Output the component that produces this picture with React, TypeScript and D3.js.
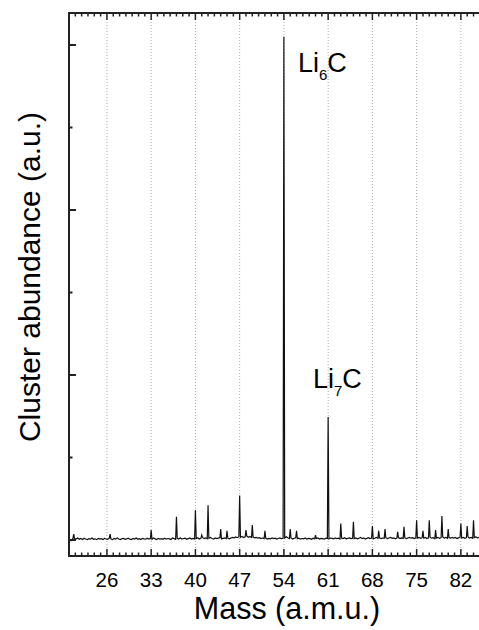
import React from "react";
import * as d3 from "d3";

const width = 479;
const height = 630;
const margin = { top: 13, left: 69, bottom: 556, right: 483 };

// baseline noise, one value every 0.25 a.m.u. starting at 20.125
const massStart = 20.125;
const massStep = 0.25;
const noise = [
  -0.004, -0.004, 0.010, 0.008, 0.006, 0.012, 0.004, 0.009, 0.003, 0.011, 0.006, 0.002, 0.008, 0.005, 0.012, 0.004, 0.007, 0.002, 0.009, 0.005,
  0.008, 0.003, 0.010, 0.006, 0.004, 0.011, 0.007, 0.002, 0.009, 0.005, 0.012, 0.006, 0.003, 0.008, 0.010, 0.004, 0.007, 0.011, 0.005, 0.003,
  0.009, 0.006, 0.012, 0.004, 0.008, 0.003, 0.010, 0.007, 0.005, 0.011, 0.006, 0.009, 0.004, 0.012, 0.007, 0.003, 0.010, 0.006, 0.008, 0.004,
  0.011, 0.005, 0.009, 0.007, 0.003, 0.012, 0.008, 0.004, 0.010, 0.006, 0.013, 0.005, 0.009, 0.011, 0.004, 0.008, 0.012, 0.006, 0.010, 0.007,
  0.009, 0.014, 0.006, 0.011, 0.016, 0.008, 0.012, 0.007, 0.010, 0.015, 0.009, 0.006, 0.012, 0.008, 0.011, 0.014, 0.007, 0.010, 0.013, 0.008,
  0.011, 0.007, 0.012, 0.016, 0.013, 0.018, 0.014, 0.020, 0.016, 0.022, 0.015, 0.019, 0.024, 0.017, 0.021, 0.015, 0.018, 0.013, 0.016, 0.011,
  0.014, 0.009, 0.012, 0.008, 0.011, 0.006, 0.010, 0.007, 0.012, 0.008, 0.011, 0.006, 0.009, 0.013, 0.008, 0.010, 0.012, 0.020, 0.014, 0.009,
  0.012, 0.006, 0.010, 0.014, 0.008, 0.011, 0.005, 0.009, 0.007, 0.012, 0.006, 0.010, 0.008, 0.004, 0.011, 0.007, 0.009, 0.012, 0.006, 0.010,
  0.008, 0.005, 0.011, 0.009, 0.006, 0.012, 0.010, 0.007, 0.013, 0.008, 0.011, 0.006, 0.012, 0.009, 0.014, 0.007, 0.010, 0.013, 0.008, 0.011,
  0.009, 0.013, 0.007, 0.011, 0.015, 0.008, 0.012, 0.006, 0.010, 0.014, 0.009, 0.012, 0.007, 0.011, 0.016, 0.009, 0.013, 0.008, 0.012, 0.010,
  0.014, 0.008, 0.012, 0.016, 0.010, 0.013, 0.007, 0.011, 0.015, 0.009, 0.013, 0.010, 0.014, 0.008, 0.012, 0.016, 0.011, 0.014, 0.009, 0.013,
  0.012, 0.016, 0.010, 0.014, 0.011, 0.015, 0.009, 0.013, 0.017, 0.011, 0.014, 0.008, 0.012, 0.016, 0.010, 0.014, 0.018, 0.012, 0.015, 0.010,
  0.014, 0.011, 0.016, 0.012, 0.015, 0.009, 0.013, 0.017, 0.012, 0.015, 0.010, 0.014, 0.018, 0.012, 0.016, 0.011, 0.015, 0.019, 0.013, 0.016,
  0.012,
];

// peaks (mass, abundance)
const peakMass = [20.75, 26.5, 33, 37, 40, 41, 42, 44, 45, 47, 48, 49, 51, 54, 55, 56, 59, 61, 63, 65, 68, 69, 70, 72, 73, 75, 76, 77, 78, 79, 80, 82, 83, 84];
const peakValue = [0.036, 0.036, 0.06, 0.14, 0.18, 0.03, 0.21, 0.067, 0.055, 0.27, 0.06, 0.09, 0.055, 3.05, 0.067, 0.055, 0.03, 0.745, 0.1, 0.11, 0.085, 0.055, 0.067, 0.05, 0.08, 0.12, 0.055, 0.12, 0.06, 0.145, 0.067, 0.1, 0.085, 0.12];

const xTickLabels = [26, 33, 40, 47, 54, 61, 68, 75, 82];
const yMajorTicks = [0, 1, 2, 3];
const yMinorTicks = [0.5, 1.5, 2.5];

const labels = [
  { base: "Li", sub: "6", tail: "C", x: 298, y: 72 },
  { base: "Li", sub: "7", tail: "C", x: 313, y: 388 },
];

const font = "'Liberation Sans', Arial, Helvetica, sans-serif";

export default function App() {
  const x = d3.scaleLinear().domain([20, 85.5]).range([margin.left, margin.right]);
  const y = d3.scaleLinear().domain([-0.097, 3.194]).range([margin.bottom, margin.top]);

  const series: [number, number][] = noise.map((v, i) => [massStart + i * massStep, v]);
  peakMass.forEach((m, i) => series.push([m, peakValue[i]]));
  series.sort((a, b) => a[0] - b[0]);

  const line = d3
    .line<[number, number]>()
    .x(d => x(d[0]))
    .y(d => y(d[1]));

  const minorX = d3.range(20, 86, 1);
  const axisColor = "#222";

  return (
    <svg width={width} height={height} style={{ position: "absolute", left: 0, top: 0, background: "#fff" }}>
      <defs>
        <clipPath id="plot">
          <rect x={margin.left} y={margin.top} width={margin.right - margin.left} height={margin.bottom - margin.top} />
        </clipPath>
      </defs>

      {xTickLabels.map(t => (
        <line key={"g" + t} x1={x(t)} x2={x(t)} y1={margin.top} y2={margin.bottom}
          stroke="#aaa" strokeWidth={1} strokeDasharray="1,2" />
      ))}

      <path d={line(series) ?? ""} fill="none" stroke="#111" strokeWidth={1.2} clipPath="url(#plot)" />

      {/* frame */}
      <line x1={margin.left} x2={width + 5} y1={margin.top} y2={margin.top} stroke={axisColor} strokeWidth={2} />
      <line x1={margin.left} x2={width + 5} y1={margin.bottom} y2={margin.bottom} stroke={axisColor} strokeWidth={2} />
      <line x1={margin.left} x2={margin.left} y1={margin.top - 1} y2={margin.bottom + 1} stroke={axisColor} strokeWidth={2} />

      {minorX.map(m => {
        const major = xTickLabels.includes(m);
        const len = major ? 7 : 3.5;
        return (
          <g key={"t" + m}>
            <line x1={x(m)} x2={x(m)} y1={margin.top} y2={margin.top + len} stroke={axisColor} strokeWidth={1.5} />
            <line x1={x(m)} x2={x(m)} y1={margin.bottom} y2={margin.bottom - len} stroke={axisColor} strokeWidth={1.5} />
          </g>
        );
      })}

      {yMajorTicks.map(t => (
        <line key={"y" + t} x1={margin.left} x2={margin.left + 7} y1={y(t)} y2={y(t)} stroke={axisColor} strokeWidth={2} />
      ))}
      {yMinorTicks.map(t => (
        <line key={"ym" + t} x1={margin.left} x2={margin.left + 3.5} y1={y(t)} y2={y(t)} stroke={axisColor} strokeWidth={2} />
      ))}

      {xTickLabels.map(t => (
        <text key={"l" + t} x={x(t)} y={587} textAnchor="middle" fontFamily={font} fontSize={20.5} fill="#000">
          {t}
        </text>
      ))}

      {labels.map((l, i) => (
        <text key={"pk" + i} x={l.x} y={l.y} fontFamily={font} fontSize={27} fill="#000">
          {l.base}
          <tspan fontSize={15} dy={8}>{l.sub}</tspan>
          <tspan dy={-8}>{l.tail}</tspan>
        </text>
      ))}

      <text x={287} y={619} textAnchor="middle" fontFamily={font} fontSize={30.5} fill="#000">
        Mass (a.m.u.)
      </text>
      <text transform="translate(40,277) rotate(-90)" textAnchor="middle" fontFamily={font} fontSize={30} fill="#000">
        Cluster abundance (a.u.)
      </text>
    </svg>
  );
}
